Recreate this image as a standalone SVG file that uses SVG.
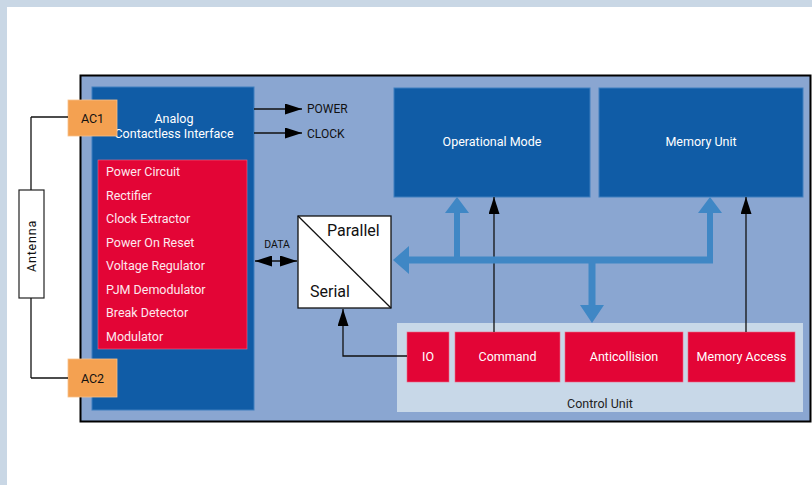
<svg xmlns="http://www.w3.org/2000/svg" width="812" height="485" viewBox="0 0 812 485">
<defs>
<style>
text{font-family:Roboto,"Liberation Sans",sans-serif}
.wt{fill:#ffffff;font-size:12.5px}
.pk{fill:#fde8ee;font-size:12.5px}
.bk{fill:#111;font-size:12.5px}
.db{fill:#105ca6;stroke:#3f7fbf;stroke-width:1}
.rd{fill:#e30536;stroke:#ee6a85;stroke-width:0.6}
.or{fill:#f4a151;stroke:#f7c08a;stroke-width:0.8}
.ln{fill:none;stroke:#111;stroke-width:1.3}
.bus{fill:#3f87c5}
</style>
<marker id="ahb" viewBox="0 0 10 10" refX="10" refY="5" markerWidth="17" markerHeight="11" markerUnits="userSpaceOnUse" orient="auto-start-reverse" preserveAspectRatio="none">
<path d="M0,0 L10,5 L0,10 z" fill="#000"/>
</marker>
</defs>
<rect x="0" y="0" width="812" height="485" fill="#c9d7e5"/>
<rect x="7" y="7" width="805" height="478" fill="#ffffff"/>

<g id="main">
<rect x="80.5" y="75.5" width="730" height="346" fill="#8aa6d1" stroke="#000" stroke-width="2"/>
</g>

<g id="antenna">
<rect x="19" y="190" width="25" height="108" fill="#fff" stroke="#222" stroke-width="1.2"/>
<text x="31.5" y="246" transform="rotate(-90 31.5 246)" text-anchor="middle" dominant-baseline="central" class="bk" style="font-size:12.5px;letter-spacing:0.8px">Antenna</text>
</g>

<g id="analog">
<rect x="92" y="87" width="162" height="323" class="db"/>
<text x="174" y="123" text-anchor="middle" class="wt">Analog</text>
<text x="174" y="138" text-anchor="middle" class="wt">Contactless Interface</text>
<rect x="98" y="160" width="149" height="189" class="rd"/>
<text x="106" y="176" class="pk">Power Circuit</text>
<text x="106" y="199.5" class="pk">Rectifier</text>
<text x="106" y="223" class="pk">Clock Extractor</text>
<text x="106" y="246.5" class="pk">Power On Reset</text>
<text x="106" y="270" class="pk">Voltage Regulator</text>
<text x="106" y="293.5" class="pk">PJM Demodulator</text>
<text x="106" y="317" class="pk">Break Detector</text>
<text x="106" y="341" class="pk">Modulator</text>
</g>

<g id="ac1">
<rect x="68" y="100" width="49" height="36" class="or"/>
<text x="92.5" y="122.5" text-anchor="middle" class="bk">AC1</text>
</g>
<g id="ac2">
<rect x="68" y="359" width="49" height="38" class="or"/>
<text x="92.5" y="382.5" text-anchor="middle" class="bk">AC2</text>
</g>

<g id="converter">
<rect x="298" y="216" width="93" height="92" fill="#fff" stroke="#111" stroke-width="1.3"/>
<line x1="298" y1="216" x2="391" y2="308" stroke="#111" stroke-width="1.3"/>
<text x="327" y="236" style="font-size:16px" fill="#111">Parallel</text>
<text x="310" y="297" style="font-size:16px" fill="#111">Serial</text>
</g>

<g id="opmode">
<rect x="394" y="88" width="196" height="109" class="db"/>
<text x="492" y="145.5" text-anchor="middle" class="wt">Operational Mode</text>
</g>
<g id="memunit">
<rect x="599" y="88" width="204" height="109" class="db"/>
<text x="701" y="145.5" text-anchor="middle" class="wt">Memory Unit</text>
</g>

<g id="control">
<rect x="397" y="323" width="406" height="89" fill="#c8d8e8"/>
<text x="600" y="407.5" text-anchor="middle" class="bk" style="fill:#222">Control Unit</text>
<g id="io">
<rect x="407" y="332" width="42" height="50" class="rd"/>
<text x="428" y="360.5" text-anchor="middle" class="wt">IO</text>
</g>
<g id="command">
<rect x="455" y="332" width="105" height="50" class="rd"/>
<text x="507.5" y="360.5" text-anchor="middle" class="wt">Command</text>
</g>
<g id="anticollision">
<rect x="565" y="332" width="118" height="50" class="rd"/>
<text x="624" y="360.5" text-anchor="middle" class="wt">Anticollision</text>
</g>
<g id="memaccess">
<rect x="688" y="332" width="107" height="50" class="rd"/>
<text x="741.5" y="360.5" text-anchor="middle" class="wt">Memory Access</text>
</g>
</g>

<g id="connectors">
<line x1="31" y1="117" x2="68" y2="117" class="ln"/>
<line x1="31" y1="117" x2="31" y2="190" class="ln"/>
<line x1="31" y1="298" x2="31" y2="378" class="ln"/>
<line x1="31" y1="378" x2="68" y2="378" class="ln"/>
<line x1="254" y1="109" x2="302" y2="109" class="ln" marker-end="url(#ahb)"/>
<text x="307" y="113" class="bk" style="font-size:12px">POWER</text>
<line x1="254" y1="133" x2="302" y2="133" class="ln" marker-end="url(#ahb)"/>
<text x="307" y="137.5" class="bk" style="font-size:12px">CLOCK</text>
<line x1="255" y1="261" x2="297" y2="261" class="ln" marker-start="url(#ahb)" marker-end="url(#ahb)"/>
<text x="277" y="247.5" text-anchor="middle" class="bk" style="font-size:10.5px">DATA</text>
<polyline points="407,356 343,356 343,309" class="ln" marker-end="url(#ahb)"/>
<line x1="494" y1="332" x2="494" y2="197" class="ln" marker-end="url(#ahb)"/>
<line x1="746" y1="332" x2="746" y2="197" class="ln" marker-end="url(#ahb)"/>
<path class="bus" d="M393,260 L409,246 L409,256.5 L454,256.5 L454,213 L445,213 L457,197 L469,213 L460,213 L460,256.5 L707,256.5 L707,213 L698,213 L710,197 L722,213 L713,213 L713,263.5 L595.5,263.5 L595.5,305 L604,305 L592,323 L580,305 L588.5,305 L588.5,263.5 L409,263.5 L409,274 Z"/>
</g>
</svg>
